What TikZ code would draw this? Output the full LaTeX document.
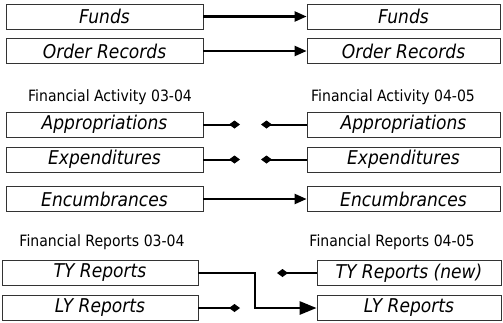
\documentclass[tikz,border=0pt]{standalone}
\usepackage{fontspec}
\setmainfont{DejaVu Sans}[FakeStretch=0.9]
\usetikzlibrary{arrows.meta}
\begin{document}
\begin{tikzpicture}[x=1pt,y=-1pt,
  box/.style={draw=black!80,line width=0.8pt,inner sep=0pt,minimum height=25pt,font=\fontsize{19}{20}\selectfont\itshape},
  lbox/.style={box,minimum width=197pt},
  rbox/.style={box,minimum width=193pt},
  grouplabel/.style={font=\fontsize{15.6}{17}\selectfont,inner sep=0pt},
  arr/.style={line width=2.3pt,-{Triangle[length=12pt,width=10pt]}},
  big/.style={line width=2.8pt,-{Triangle[length=17pt,width=13pt]}},
  dia/.style={line width=2pt,-{Diamond[length=11pt,width=8pt]}}]
\useasboundingbox (0,0) rectangle (503,322);
\node[lbox] (fundsL) at (104.5,16.5) {Funds};
\node[lbox] (orderL) at (104.5,51) {Order Records};
\node[rbox] (fundsR) at (403.5,16.5) {Funds};
\node[rbox] (orderR) at (403.5,51) {Order Records};
\node[grouplabel] (faL) at (110,97) {Financial Activity 03-04};
\node[grouplabel] (faR) at (393,97) {Financial Activity 04-05};
\node[lbox] (apprL) at (104.5,124.5) {Appropriations};
\node[lbox] (expL) at (104.5,159.5) {Expenditures};
\node[lbox] (encL) at (104.5,199) {Encumbrances};
\node[rbox] (apprR) at (403.5,124.5) {Appropriations};
\node[rbox] (expR) at (403.5,159.5) {Expenditures};
\node[rbox] (encR) at (403.5,199) {Encumbrances};
\node[grouplabel] (frL) at (102,242) {Financial Reports 03-04};
\node[grouplabel] (frR) at (392,242) {Financial Reports 04-05};
\node[box,minimum width=196pt] (tyL) at (100,273) {TY Reports};
\node[box,minimum width=196pt] (lyL) at (100,308) {LY Reports};
\node[box,minimum width=184pt] (tyR) at (409,273) {TY Reports (new)};
\node[box,minimum width=184pt] (lyR) at (409,308) {LY Reports};
\coordinate (dA1) at (240,124.5);
\coordinate (dA2) at (261,124.5);
\coordinate (dE1) at (240,159.5);
\coordinate (dE2) at (261,159.5);
\coordinate (dT) at (277,273);
\coordinate (dL) at (240,308);
\coordinate (bend) at (255,273);
\draw[arr] (fundsL.east) -- (fundsR.west);
\draw[arr] (orderL.east) -- (orderR.west);
\draw[dia] (apprL.east) -- (dA1);
\draw[dia] (apprR.west) -- (dA2);
\draw[dia] (expL.east) -- (dE1);
\draw[dia] (expR.west) -- (dE2);
\draw[arr] (encL.east) -- (encR.west);
\draw[big] (tyL.east) -- (bend) |- (lyR.west);
\draw[dia] (tyR.west) -- (dT);
\draw[dia] (lyL.east) -- (dL);
\end{tikzpicture}
\end{document}
